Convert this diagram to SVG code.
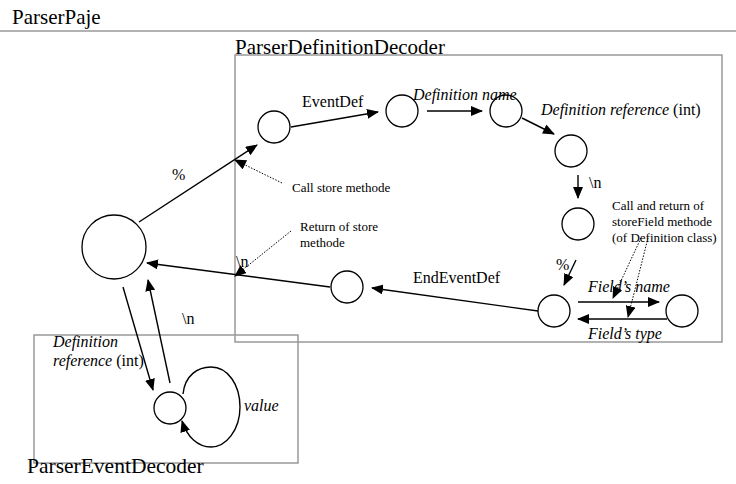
<svg xmlns="http://www.w3.org/2000/svg" width="736" height="484" viewBox="0 0 736 484">
<defs>
<marker id="ah" markerUnits="userSpaceOnUse" markerWidth="12" markerHeight="10" viewBox="0 0 12 10" refX="11" refY="5" orient="auto"><path d="M0,0 L12,5 L0,10 Z" fill="#000"/></marker>
</defs>
<style>
.t{font-family:"Liberation Serif","Times New Roman",serif;fill:#000}
.i{font-style:italic}
.n{fill:#fff;stroke:#000;stroke-width:1.3}
.e{fill:none;stroke:#000;stroke-width:1.4;marker-end:url(#ah)}
.d{fill:none;stroke:#000;stroke-width:1;stroke-dasharray:1.5,1.5;marker-end:url(#ah)}
.b{fill:none;stroke:#999;stroke-width:1.5}
</style>
<rect width="736" height="484" fill="#fff"/>
<text class="t" x="12" y="24" font-size="21">ParserPaje</text>
<line x1="0" y1="31" x2="736" y2="31" stroke="#999" stroke-width="1.5"/>
<g id="defBox">
<rect class="b" x="235" y="55" width="487" height="287"/>
<text class="t" x="235" y="54" font-size="21">ParserDefinitionDecoder</text>
</g>
<g id="eventBox">
<rect class="b" x="34" y="335" width="264" height="128"/>
<text class="t" x="27" y="473" font-size="21.5">ParserEventDecoder</text>
</g>
<g id="connectors">
<path class="e" d="M139,222 L257,145"/>
<path class="e" d="M291,127 L378,112"/>
<path class="e" d="M427,111 L482,111"/>
<path class="e" d="M522,118 L554,134"/>
<path class="e" d="M578,175 L578,198"/>
<path class="e" d="M576,260 L564,285"/>
<path class="e" d="M578,302 L659,302"/>
<path class="e" d="M667,319 L578,319"/>
<path class="e" d="M538,311 L372,288"/>
<path class="e" d="M330,287 L147,263"/>
<path class="e" d="M123,287 L153,390"/>
<path class="e" d="M170,383 L148,280"/>
<path class="e" d="M183,394 C185,375 198,367 211,367 C228,367 240,385 240,407 C240,430 226,447 211,447 C198,447 187,437 182,421"/>
<path class="d" d="M282,183 L235,160"/>
<path class="d" d="M291,231 L235,276"/>
<path class="d" d="M641,238 L613,298"/>
<path class="d" d="M648,238 L628,317"/>
</g>
<g id="n0"><circle class="n" cx="114" cy="247" r="32"/></g>
<g id="n1"><circle class="n" cx="274" cy="127" r="16"/></g>
<g id="n2"><circle class="n" cx="402" cy="111" r="16"/></g>
<g id="n3"><circle class="n" cx="506" cy="111" r="16"/></g>
<g id="n4"><circle class="n" cx="571" cy="151" r="16"/></g>
<g id="n5"><circle class="n" cx="578" cy="224" r="16"/></g>
<g id="n6"><circle class="n" cx="554" cy="311" r="16"/></g>
<g id="n7"><circle class="n" cx="682" cy="311" r="16"/></g>
<g id="n8"><circle class="n" cx="347" cy="287" r="16"/></g>
<g id="n9"><circle class="n" cx="170" cy="408" r="16"/></g>
<g id="labels">
<text class="t" x="172" y="180" font-size="16">%</text>
<text class="t" x="302" y="107" font-size="16">EventDef</text>
<text class="t i" x="413" y="100" font-size="16">Definition name</text>
<text class="t" x="541" y="115" font-size="16"><tspan class="i">Definition reference</tspan> (int)</text>
<text class="t" x="589" y="188" font-size="16">\n</text>
<text class="t" x="556" y="270" font-size="16">%</text>
<text class="t i" x="588" y="292" font-size="16">Field’s name</text>
<text class="t i" x="588" y="339" font-size="16">Field’s type</text>
<text class="t" x="413" y="283" font-size="16">EndEventDef</text>
<text class="t" x="236" y="267" font-size="16">\n</text>
<text class="t" x="182" y="324" font-size="16">\n</text>
<text class="t i" x="53" y="347" font-size="16">Definition</text>
<text class="t" x="53" y="366" font-size="16"><tspan class="i">reference</tspan> (int)</text>
<text class="t i" x="244" y="411" font-size="16">value</text>
<text class="t" x="292" y="192" font-size="13">Call store methode</text>
<text class="t" x="300" y="231" font-size="13">Return of  store</text>
<text class="t" x="300" y="247" font-size="13">methode</text>
<text class="t" x="612" y="210" font-size="13">Call and return of</text>
<text class="t" x="612" y="226" font-size="13">storeField methode</text>
<text class="t" x="612" y="242" font-size="13">(of Definition class)</text>
</g>
</svg>
